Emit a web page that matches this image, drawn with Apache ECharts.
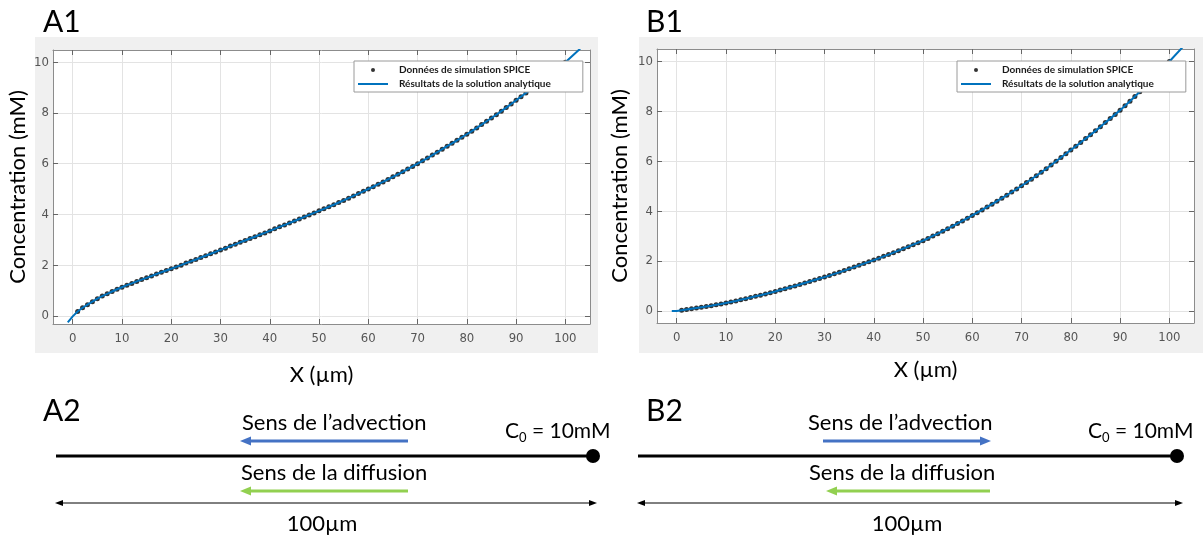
<!DOCTYPE html>
<html>
<head>
<meta charset="utf-8">
<script src="https://cdn.jsdelivr.net/npm/echarts@6/dist/echarts.min.js"></script>
<style>
html,body{margin:0;padding:0;background:#fff;}
#main{width:1203px;height:537px;}
</style>
</head>
<body>
<div id="main"></div>
<script>
// positions x (µm) des points de simulation
var xSim = [1,2,3,4,5,6,7,8,9,10,11,12,13,14,15,16,17,18,19,20,
	21,22,23,24,25,26,27,28,29,30,31,32,33,34,35,36,37,38,39,40,
	41,42,43,44,45,46,47,48,49,50,51,52,53,54,55,56,57,58,59,60,
	61,62,63,64,65,66,67,68,69,70,71,72,73,74,75,76,77,78,79,80,
	81,82,83,84,85,86,87,88,89,90,91,92,93,94,95,96,97,98,99,100];
// A1 : concentration (mM)
var concA = [0.17,0.32,0.44,0.56,0.68,0.78,0.87,0.96,1.05,1.13,
	1.21,1.28,1.36,1.43,1.50,1.57,1.65,1.72,1.79,1.86,
	1.93,2.00,2.08,2.15,2.22,2.30,2.37,2.45,2.52,2.60,
	2.67,2.75,2.82,2.90,2.97,3.05,3.12,3.20,3.27,3.35,
	3.43,3.51,3.58,3.66,3.74,3.82,3.90,3.98,4.06,4.14,
	4.22,4.30,4.38,4.47,4.55,4.64,4.73,4.82,4.91,5.00,
	5.09,5.19,5.28,5.38,5.48,5.58,5.68,5.79,5.89,6.00,
	6.11,6.22,6.34,6.45,6.57,6.69,6.80,6.92,7.04,7.16,
	7.28,7.41,7.54,7.67,7.80,7.93,8.07,8.21,8.35,8.50,
	8.64,8.79,8.93,9.08,9.23,9.38,9.53,9.69,9.84,10.00];
// B1 : concentration (mM)
var concB = [0.03,0.06,0.09,0.12,0.15,0.18,0.21,0.25,0.28,0.32,
	0.36,0.40,0.45,0.49,0.54,0.59,0.63,0.68,0.73,0.78,
	0.84,0.89,0.95,1.00,1.06,1.12,1.18,1.24,1.30,1.36,
	1.42,1.49,1.55,1.62,1.69,1.76,1.83,1.90,1.97,2.04,
	2.11,2.19,2.26,2.34,2.42,2.50,2.58,2.66,2.74,2.82,
	2.91,3.01,3.10,3.20,3.30,3.40,3.51,3.61,3.72,3.83,
	3.94,4.05,4.17,4.28,4.40,4.52,4.64,4.77,4.89,5.02,
	5.15,5.28,5.42,5.56,5.70,5.85,6.00,6.15,6.30,6.45,
	6.60,6.75,6.91,7.06,7.22,7.38,7.55,7.71,7.88,8.05,
	8.23,8.41,8.60,8.79,8.98,9.18,9.38,9.58,9.79,10.00];
// solution analytique : extrémités hors des points SPICE
var lineStartX = [-1, 0];
var lineEndX = [103];
var lineStartA = [-0.26, -0.02];
var lineEndA = [10.53];
var lineStartB = [0.0, 0.0];
var lineEndB = [10.64];

var xTicks = [0,10,20,30,40,50,60,70,80,90,100];
var yTicks = [0,2,4,6,8,10];
var xRange = [-4, 105];
var yRangeA = [-0.32, 10.48];
var yRangeB = [-0.48, 10.5];

var nameSim = 'Données de simulation SPICE';
var nameAna = 'Résultats de la solution analytique';

function pairs(xs, ys){
	var out = [];
	for(var i = 0; i < xs.length; i++){
		out.push([xs[i], ys[i]]);
	}
	return out;
}

var tickFont = '"Liberation Sans Narrow","DejaVu Sans Condensed",sans-serif';
var boxColor = '#8c8c8c';

function bottomAxis(grid){
	return {
		type:'value', gridIndex:grid, position:'bottom', min:xRange[0], max:xRange[1],
		name:'X (µm)', nameLocation:'middle', nameGap: grid === 0 ? 40 : 36,
		nameTextStyle:{fontFamily:'Lato', fontSize:22, color:'#000'},
		axisLine:{onZero:false, lineStyle:{color:boxColor}},
		axisTick:{inside:true, length:5, customValues:xTicks, lineStyle:{color:'#666'}},
		axisLabel:{customValues:xTicks, margin:8, fontFamily:tickFont, fontSize:13, color:'#555'},
		splitLine:{show:true, lineStyle:{color:'#e3e3e3'}}
	};
}
function topAxis(grid){
	return {
		type:'value', gridIndex:grid, position:'top', min:xRange[0], max:xRange[1],
		axisLine:{onZero:false, lineStyle:{color:boxColor}},
		axisTick:{inside:true, length:5, customValues:xTicks, lineStyle:{color:'#666'}},
		axisLabel:{show:false}, splitLine:{show:false}
	};
}
function leftAxis(grid, range){
	return {
		type:'value', gridIndex:grid, position:'left', min:range[0], max:range[1],
		name:'Concentration (mM)', nameLocation:'middle', nameGap: grid === 0 ? 24 : 26,
		nameTextStyle:{fontFamily:'Lato', fontSize:22, color:'#000'},
		axisLine:{show:true, onZero:false, lineStyle:{color:boxColor}},
		axisTick:{show:true, inside:true, length:5, customValues:yTicks, lineStyle:{color:'#666'}},
		axisLabel:{customValues:yTicks, margin:4, fontFamily:tickFont, fontSize:13, color:'#555'},
		splitLine:{show:true, lineStyle:{color:'#e3e3e3'}}
	};
}
function rightAxis(grid, range){
	return {
		type:'value', gridIndex:grid, position:'right', min:range[0], max:range[1],
		axisLine:{show:true, onZero:false, lineStyle:{color:boxColor}},
		axisTick:{show:true, inside:true, length:5, customValues:yTicks, lineStyle:{color:'#666'}},
		axisLabel:{show:false}, splitLine:{show:false}
	};
}
function legendAt(left){
	return {
		left:left, top:61, orient:'vertical', selectedMode:false,
		padding:[4,32,3,3], itemWidth:30, itemHeight:4, itemGap:4,
		backgroundColor:'#fff', borderColor:'#9a9a9a', borderWidth:1,
		textStyle:{fontFamily:'Lato', fontWeight:'bold', fontSize:10, color:'#1a1a1a', padding:[0,0,0,6]},
		data:[{name:nameSim, icon:'circle'}, {name:nameAna, itemStyle:{opacity:0}}]
	};
}
function label(text, left, top){
	return {text:text, left:left, top:top, padding:0,
		textStyle:{fontFamily:'Lato', fontSize:30, fontWeight:'normal', color:'#000'}};
}

// schémas A2 / B2
function txt(x, y, text, align){
	return {type:'text', x:x, y:y, style:{text:text, fontFamily:'Lato', fontSize:22, fill:'#000',
		align:align || 'left', verticalAlign:'middle'}};
}
function seg(x1, x2, y, color, w){
	return {type:'line', shape:{x1:x1, y1:y, x2:x2, y2:y}, style:{stroke:color, lineWidth:w}};
}
function head(tip, y, dir, len, half, color){
	return {type:'polygon', shape:{points:[[tip, y], [tip - dir*len, y - half], [tip - dir*len, y + half]]},
		style:{fill:color}};
}
function concLabel(x, y){
	return {type:'text', x:x, y:y, style:{text:'{a|C}{b|0}{a| = 10mM}', verticalAlign:'middle',
		rich:{a:{fontFamily:'Lato', fontSize:21, lineHeight:26, fill:'#000'},
			b:{fontFamily:'Lato', fontSize:13, lineHeight:13, verticalAlign:'bottom', fill:'#000'}}}};
}
var blue = '#4472C4', green = '#92D050';
var sketch = [
	{type:'rect', shape:{x:35, y:37, width:563, height:316}, style:{fill:'#f0f0f0'}, z:-100},
	{type:'rect', shape:{x:639, y:37, width:564, height:316}, style:{fill:'#f0f0f0'}, z:-100},
	// A2
	txt(242, 423, 'Sens de l’advection'),
	seg(249, 408, 441, blue, 3), head(240, 441, -1, 11, 4.5, blue),
	seg(56, 593, 456, '#000', 3),
	{type:'circle', shape:{cx:593, cy:456, r:7}, style:{fill:'#000'}},
	concLabel(505, 431),
	txt(241, 473, 'Sens de la diffusion'),
	seg(249, 408, 491, green, 3), head(240, 491, -1, 11, 4.5, green),
	seg(60, 592, 503, '#000', 1), head(55, 503, -1, 8, 3, '#000'), head(597, 503, 1, 8, 3, '#000'),
	txt(322, 524, '100µm', 'center'),
	// B2
	txt(808, 423, 'Sens de l’advection'),
	seg(823, 982, 441, blue, 3), head(991, 441, 1, 11, 4.5, blue),
	seg(638, 1177, 456, '#000', 3),
	{type:'circle', shape:{cx:1177, cy:456, r:7}, style:{fill:'#000'}},
	concLabel(1088, 431),
	txt(809, 473, 'Sens de la diffusion'),
	seg(835, 990, 491, green, 3), head(826, 491, -1, 11, 4.5, green),
	seg(642, 1178, 503, '#000', 1), head(637, 503, -1, 8, 3, '#000'), head(1183, 503, 1, 8, 3, '#000'),
	txt(907, 524, '100µm', 'center')
];

var chart = echarts.init(document.getElementById('main'));
chart.setOption({
	backgroundColor:'#fff',
	animation:false,
	title:[label('A1', 43, 7), label('B1', 646, 7), label('A2', 43, 396), label('B2', 646, 396)],
	legend:[legendAt(354), legendAt(957)],
	grid:[
		{left:53, top:50, width:537, height:274, show:true, backgroundColor:'#fff', borderWidth:0},
		{left:657, top:49, width:537, height:274, show:true, backgroundColor:'#fff', borderWidth:0}
	],
	xAxis:[bottomAxis(0), topAxis(0), bottomAxis(1), topAxis(1)],
	yAxis:[leftAxis(0, yRangeA), rightAxis(0, yRangeA), leftAxis(1, yRangeB), rightAxis(1, yRangeB)],
	graphic:sketch,
	series:[
		{name:nameSim, type:'scatter', xAxisIndex:0, yAxisIndex:0, symbolSize:5,
			itemStyle:{color:'#000'}, data:pairs(xSim, concA), z:2},
		{name:nameAna, type:'line', xAxisIndex:0, yAxisIndex:0, showSymbol:false, symbol:'none', clip:true,
			lineStyle:{color:'#0072BD', width:2}, itemStyle:{color:'#0072BD'},
			data:pairs(lineStartX.concat(xSim, lineEndX), lineStartA.concat(concA, lineEndA)), z:3},
		{name:nameSim, type:'scatter', xAxisIndex:2, yAxisIndex:2, symbolSize:5,
			itemStyle:{color:'#000'}, data:pairs(xSim, concB), z:2},
		{name:nameAna, type:'line', xAxisIndex:2, yAxisIndex:2, showSymbol:false, symbol:'none', clip:true,
			lineStyle:{color:'#0072BD', width:2}, itemStyle:{color:'#0072BD'},
			data:pairs(lineStartX.concat(xSim, lineEndX), lineStartB.concat(concB, lineEndB)), z:3}
	]
});
</script>
</body>
</html>
